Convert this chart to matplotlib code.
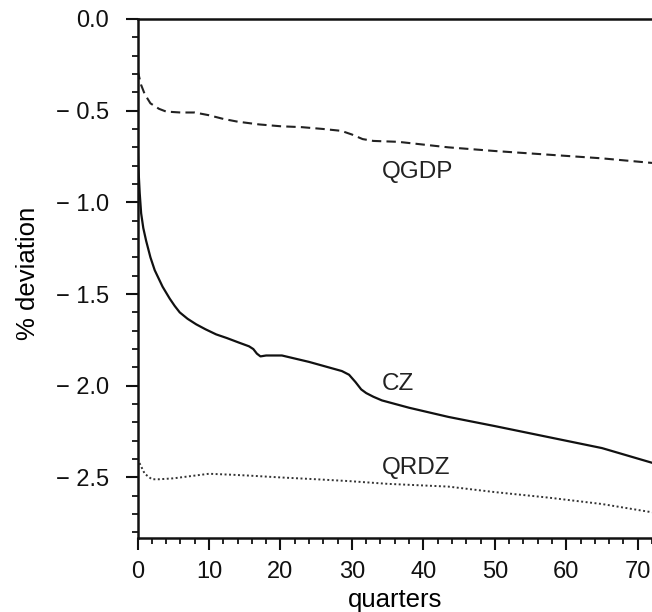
import matplotlib
matplotlib.use("Agg")
import matplotlib.pyplot as plt
from matplotlib.ticker import MultipleLocator

plt.rcParams['font.family'] = ['Liberation Sans', 'DejaVu Sans']

# Data
qgdp_x = [0, 0.5, 1, 1.8, 3, 4, 6, 8, 10, 12, 14, 17, 20, 23, 26, 28.5, 30, 31.5, 33, 36.5, 40, 43.5, 50, 57.5, 65, 72]
qgdp_y = [-0.28, -0.36, -0.41, -0.46, -0.49, -0.505, -0.51, -0.51, -0.525, -0.545, -0.56, -0.575, -0.585, -0.59, -0.60, -0.61, -0.63, -0.655, -0.665, -0.67, -0.685, -0.70, -0.72, -0.74, -0.76, -0.785]

cz_x = [0, 0.1, 0.3, 0.5, 0.8, 1.2, 1.8, 2.4, 3.5, 4.5, 5.2, 5.9, 7, 8.2, 9.5, 11, 12.5, 14.2, 15.6, 16.2, 16.7, 17.2, 18, 20.2, 24, 28.6, 29.6, 30.5, 31.3, 32, 33, 34.2, 38, 43.5, 50, 57.5, 65, 72]
cz_y = [-0.66, -0.80, -0.95, -1.06, -1.14, -1.21, -1.30, -1.37, -1.46, -1.525, -1.565, -1.60, -1.635, -1.665, -1.692, -1.72, -1.74, -1.765, -1.785, -1.80, -1.825, -1.84, -1.835, -1.835, -1.87, -1.92, -1.94, -1.98, -2.02, -2.04, -2.06, -2.08, -2.12, -2.17, -2.22, -2.28, -2.34, -2.42]

qrdz_x = [0, 0.5, 1, 2, 3, 5, 7, 10, 13, 15.6, 20, 25, 29.6, 35, 43.5, 50, 57.5, 65, 72]
qrdz_y = [-2.40, -2.44, -2.48, -2.51, -2.51, -2.505, -2.495, -2.48, -2.485, -2.49, -2.50, -2.51, -2.52, -2.535, -2.55, -2.58, -2.61, -2.645, -2.69]

series_labels = ["QGDP", "CZ", "QRDZ"]
label_pos_x = [34.2, 34.2, 34.2]
label_pos_y = [-0.836, -1.99, -2.45]

x_ticks = [0, 10, 20, 30, 40, 50, 60, 70]
x_ticklabels = ["0", "10", "20", "30", "40", "50", "60", "70"]
y_ticks = [0.0, -0.5, -1.0, -1.5, -2.0, -2.5]
y_ticklabels = ["0.0", "\u2212 0.5", "\u2212 1.0", "\u2212 1.5", "\u2212 2.0", "\u2212 2.5"]

fig = plt.figure(figsize=(6.52, 6.12), dpi=100)
ax = fig.add_axes([0.211, 0.121, 0.789, 0.848])

ax.plot(qgdp_x, qgdp_y, color='#222222', lw=1.5, linestyle=(0, (4.5, 2.5)))
ax.plot(cz_x, cz_y, color='#111111', lw=1.6, linestyle='-')
ax.plot(qrdz_x, qrdz_y, color='#333333', lw=1.4, linestyle=(0, (1.0, 1.3)))

for lab, lx, ly in zip(series_labels, label_pos_x, label_pos_y):
    ax.text(lx, ly, lab, fontsize=17.5, ha='left', va='center', color='#222222')

ax.set_xlim(0, 72)
ax.set_ylim(-2.83, 0.0)

ax.set_xticks(x_ticks)
ax.set_xticklabels(x_ticklabels)
ax.set_yticks(y_ticks)
ax.set_yticklabels(y_ticklabels)
ax.xaxis.set_minor_locator(MultipleLocator(2))
ax.yaxis.set_minor_locator(MultipleLocator(0.1))

ax.tick_params(axis='both', which='major', direction='out', length=8.5, width=1.5, labelsize=17, colors='#111111')
ax.tick_params(axis='both', which='minor', direction='out', length=4, width=1.2)
ax.tick_params(axis='x', which='major', pad=8)
ax.tick_params(axis='y', which='major', pad=12)

ax.spines['right'].set_visible(False)
for s in ['left', 'bottom', 'top']:
    ax.spines[s].set_linewidth(1.8)
    ax.spines[s].set_color('#111111')

ax.set_xlabel("quarters", fontsize=18.5, labelpad=4)
ax.set_ylabel("% deviation", fontsize=18.5)
ax.yaxis.set_label_coords(-0.19, 0.51)

fig.savefig("out.png", dpi=100)
